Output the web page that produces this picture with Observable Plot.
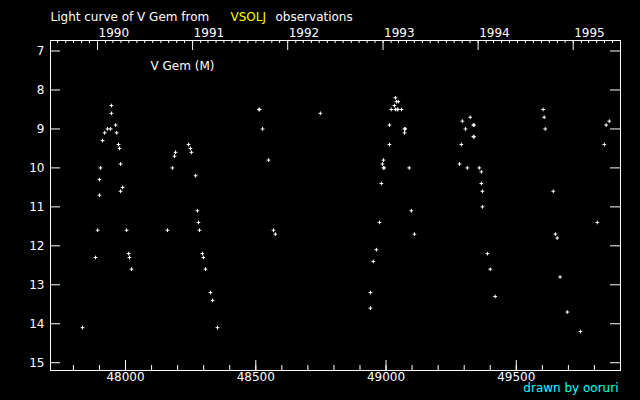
<!DOCTYPE html>
<html>
<head>
<meta charset="utf-8">
<script src="https://cdn.jsdelivr.net/npm/d3@7"></script>
<script src="https://cdn.jsdelivr.net/npm/@observablehq/plot@0.6"></script>
<style>
  html, body { margin: 0; padding: 0; background: #000; }
  #chart { width: 640px; height: 400px; }
</style>
</head>
<body>
<div id="chart"></div>
<script>
// Julian Date - 2400000 of each observation
const jd = [
  47835, 47885, 47893, 47900, 47900, 47904, 47912, 47920, 47931, 47943, 47946, 47946,
  47962, 47966, 47973, 47977, 47981, 47989, 47981, 48004, 48012, 48015, 48023,
  48161, 48180, 48188, 48192, 48242, 48249, 48253, 48269, 48276, 48280, 48284, 48295,
  48299, 48307, 48326, 48334, 48353,
  48512, 48515, 48526, 48549, 48568, 48575, 48748,
  48940, 48940, 48951, 48963, 48975, 48982, 48986, 48990, 48990, 48993, 49013, 49013,
  49020, 49032, 49036, 49036, 49040, 49047, 49043, 49046, 49059, 49071, 49071, 49074,
  49089, 49097, 49109,
  49282, 49289, 49293, 49305, 49312, 49323, 49335, 49338, 49335, 49338, 49358, 49366,
  49366, 49370, 49370, 49389, 49400, 49419,
  49603, 49607, 49611, 49642, 49650, 49657, 49668, 49696, 49746, 49811, 49838, 49845, 49857
];
// visual magnitude of each observation
const mag = [
  14.1, 12.3, 11.6, 10.7, 10.3, 10.0, 9.3, 9.1, 9.0, 9.0, 8.4, 8.6,
  8.9, 9.1, 9.4, 9.5, 9.9, 10.5, 10.6, 11.6, 12.2, 12.3, 12.6,
  11.6, 10.0, 9.7, 9.6, 9.4, 9.5, 9.6, 10.2, 11.1, 11.4, 11.6, 12.2,
  12.3, 12.6, 13.2, 13.4, 14.1,
  8.5, 8.5, 9.0, 9.8, 11.6, 11.7, 8.6,
  13.6, 13.2, 12.4, 12.1, 11.4, 10.4, 9.9, 9.8, 10.0, 10.0, 9.4, 8.9,
  8.5, 8.4, 8.2, 8.5, 8.3, 8.3, 8.5, 8.5, 8.5, 9.1, 9.0, 9.0,
  10.0, 11.1, 11.7,
  9.9, 9.4, 8.8, 9.0, 10.0, 8.7, 8.9, 8.9, 9.2, 9.2, 10.0, 10.1,
  10.4, 10.6, 11.0, 12.2, 12.6, 13.3,
  8.5, 8.7, 9.0, 10.6, 11.7, 11.8, 12.8, 13.7, 14.2, 11.4, 9.4, 8.9, 8.8
];

// axis tick values
const jdMajorTicks = [48000, 48500, 49000, 49500];
const jdMinorTicks = [47800, 47900, 48000, 48100, 48200, 48300, 48400, 48500, 48600, 48700,
  48800, 48900, 49000, 49100, 49200, 49300, 49400, 49500, 49600, 49700, 49800];
const magTicks = [7, 8, 9, 10, 11, 12, 13, 14, 15];
const yearLabels = ["1990", "1991", "1992", "1993", "1994", "1995"];
const yearStarts = [47892.5, 48257.5, 48622.5, 48988.5, 49353.5, 49718.5]; // JD of Jan 1
const toJD = (date) => date.getTime() / 864e5 + 40587.5;
const monthStarts = d3.utcMonths(new Date(Date.UTC(1989, 7, 1)), new Date(Date.UTC(1995, 6, 1))).map(toJD);

const obs = jd.map((j, i) => ({jd: j, mag: mag[i]}));
const years = yearLabels.map((label, i) => ({label, jd: yearStarts[i]}));

const W = 640, H = 400, mL = 50, mR = 20, mT = 40, mB = 30;
const frameW = W - mL - mR, frameH = H - mT - mB;

const chart = Plot.plot({
  width: W,
  height: H,
  marginLeft: mL,
  marginRight: mR,
  marginTop: mT,
  marginBottom: mB,
  style: {background: "#000", color: "#fff", fontFamily: "DejaVu Sans", fontSize: "12px"},
  x: {domain: [47712, 49900], axis: null},
  y: {domain: [6.73, 15.2], reverse: true, axis: null},
  marks: [
    Plot.frame({stroke: "#fff"}),
    // bottom ticks
    Plot.ruleX(jdMinorTicks, {x: d => d, stroke: "#fff", insetTop: frameH - 5}),
    Plot.ruleX(jdMajorTicks, {x: d => d, stroke: "#fff", insetTop: frameH - 10}),
    // top ticks (months / years)
    Plot.ruleX(monthStarts, {x: d => d, stroke: "#fff", insetBottom: frameH - 3}),
    Plot.ruleX(yearStarts, {x: d => d, stroke: "#fff", insetBottom: frameH - 10}),
    // left & right ticks
    Plot.ruleY(magTicks, {y: d => d, stroke: "#fff", insetRight: frameW - 10}),
    Plot.ruleY(magTicks, {y: d => d, stroke: "#fff", insetLeft: frameW - 10}),
    Plot.axisY({ticks: magTicks, tickSize: 0, tickPadding: 6, label: null, fill: "#fff", fontSize: 12}),
    Plot.axisX({ticks: jdMajorTicks, tickSize: 0, tickPadding: 2, label: null, fill: "#fff",
      fontSize: 12, tickFormat: d => String(d)}),
    // year labels on top
    Plot.text(years, {x: "jd", text: "label", frameAnchor: "top", dy: -12, dx: 1,
      textAnchor: "start", fill: "#fff", fontSize: 12}),
    // observations
    Plot.dot(obs, {x: "jd", y: "mag", symbol: "plus", r: 1.3, stroke: "#fff", strokeWidth: 1}),
    // texts
    Plot.text(["V Gem (M)"], {frameAnchor: "top-left", dx: 100, dy: 21, textAnchor: "start",
      fill: "#fff", fontSize: 12}),
    Plot.text(["Light curve of V Gem from"], {frameAnchor: "top-left", dx: 0, dy: -28,
      textAnchor: "start", fill: "#fff", fontSize: 12}),
    Plot.text(["VSOLJ"], {frameAnchor: "top-left", dx: 180, dy: -28,
      textAnchor: "start", fill: "#ffff00", fontSize: 12}),
    Plot.text(["observations"], {frameAnchor: "top-left", dx: 225, dy: -28,
      textAnchor: "start", fill: "#fff", fontSize: 12}),
    Plot.text(["drawn by ooruri"], {frameAnchor: "bottom-right", dx: -2, dy: 21.5,
      textAnchor: "end", fill: "#00ffff", fontSize: 12})
  ]
});
document.getElementById("chart").appendChild(chart);
</script>
</body>
</html>
